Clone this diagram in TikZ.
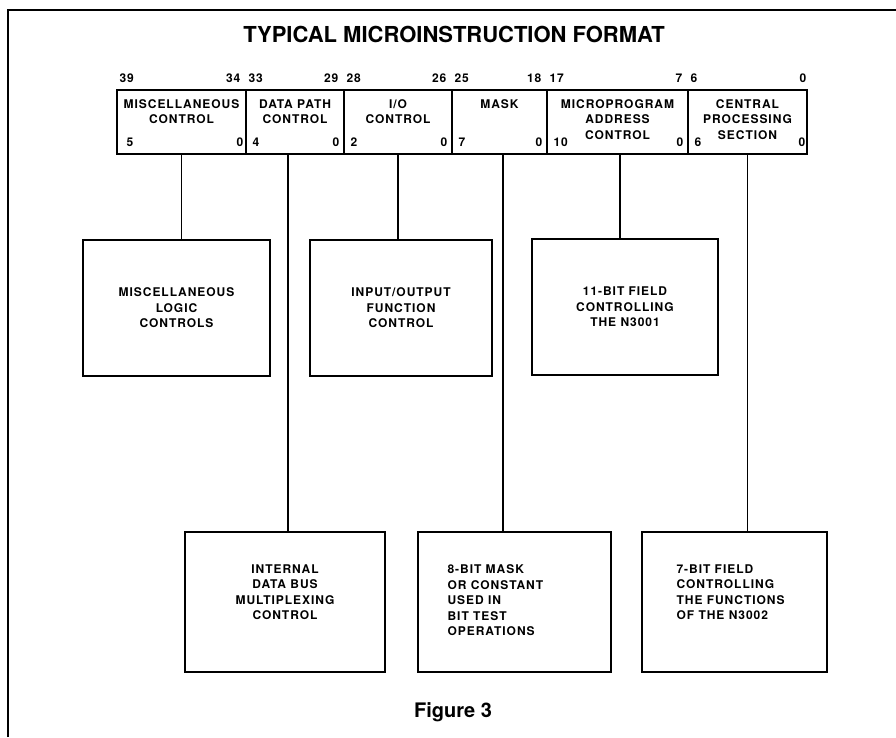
\documentclass[tikz,border=0pt]{standalone}
\usepackage{fontspec}
\setmainfont{TeX Gyre Heros}
\newfontfamily\spacedfont[LetterSpace=8]{TeX Gyre Heros}
\usetikzlibrary{positioning}

\begin{document}
\begin{tikzpicture}[
  x=1pt, y=-1pt,
  font=\spacedfont\bfseries\fontsize{12}{15.5}\selectfont,
  field/.style={draw=black, line width=1.2pt, minimum height=64pt, inner sep=0pt},
  fieldtext/.style={anchor=north, align=center, inner sep=0pt, yshift=-10pt},
  hileft/.style={inner sep=0pt, anchor=south west, xshift=3pt, yshift=7pt},
  hiright/.style={inner sep=0pt, anchor=south east, xshift=-6pt, yshift=7pt},
  loleft/.style={inner sep=0pt, anchor=south west, xshift=7pt, yshift=8pt},
  loright/.style={inner sep=0pt, anchor=south east, xshift=-5pt, yshift=8pt},
  unit/.style={draw=black, line width=1.2pt, inner sep=0pt, align=center},
  unittext/.style={inner sep=0pt, align=left},
  stem/.style={draw=black, line width=1.2pt},
  frame/.style={draw=black, line width=2pt}
]
\useasboundingbox (0,0) rectangle (896,737);
\draw[frame] (8,737) -- (8,10) -- (896,10);

% Titre
\node[font=\bfseries\fontsize{22}{26}\selectfont] (title) at (454,34) {TYPICAL MICROINSTRUCTION FORMAT};

% Champs du mot de microinstruction
\node[field, minimum width=129pt] (fmisc)  at (181.5,122) {};
\node[field, minimum width=98pt]  (fdp)    at (295,122)   {};
\node[field, minimum width=108pt] (fio)    at (398,122)   {};
\node[field, minimum width=95pt]  (fmask)  at (499.5,122) {};
\node[field, minimum width=141pt] (fmicro) at (617.5,122) {};
\node[field, minimum width=119pt] (fcps)   at (747.5,122) {};

\node[fieldtext] (tmisc)  at (fmisc.north)  {MISCELLANEOUS\\CONTROL};
\node[fieldtext] (tdpf)   at (fdp.north)    {DATA PATH\\CONTROL};
\node[fieldtext] (tiof)   at (fio.north)    {I/O\\CONTROL};
\node[fieldtext] (tmaskf) at (fmask.north)  {MASK};
\node[fieldtext] (tmicf)  at (fmicro.north) {MICROPROGRAM\\ADDRESS\\CONTROL};
\node[fieldtext] (tcpsf)  at (fcps.north)   {CENTRAL\\PROCESSING\\SECTION};

% Numéros de bits (mot / champ)
\node[hileft]  (misc-h1)  at (fmisc.north west)  {39};
\node[hiright] (misc-h2)  at (fmisc.north east)  {34};
\node[loleft, xshift=3pt] (misc-l1) at (fmisc.south west) {5};
\node[loright, xshift=2pt] (misc-l2) at (fmisc.south east) {0};
\node[hileft]  (dp-h1)    at (fdp.north west)    {33};
\node[hiright] (dp-h2)    at (fdp.north east)    {29};
\node[loleft]  (dp-l1)    at (fdp.south west)    {4};
\node[loright] (dp-l2)    at (fdp.south east)    {0};
\node[hileft]  (io-h1)    at (fio.north west)    {28};
\node[hiright] (io-h2)    at (fio.north east)    {26};
\node[loleft]  (io-l1)    at (fio.south west)    {2};
\node[loright] (io-l2)    at (fio.south east)    {0};
\node[hileft]  (mask-h1)  at (fmask.north west)  {25};
\node[hiright] (mask-h2)  at (fmask.north east)  {18};
\node[loleft]  (mask-l1)  at (fmask.south west)  {7};
\node[loright] (mask-l2)  at (fmask.south east)  {0};
\node[hileft]  (mic-h1)   at (fmicro.north west) {17};
\node[hiright] (mic-h2)   at (fmicro.north east) {7};
\node[loleft]  (mic-l1)   at (fmicro.south west) {10};
\node[loright] (mic-l2)   at (fmicro.south east) {0};
\node[hileft]  (cps-h1)   at (fcps.north west)   {6};
\node[hiright, xshift=5pt] (cps-h2) at (fcps.north east) {0};
\node[loleft]  (cps-l1)   at (fcps.south west)   {6};
\node[loright, xshift=3pt] (cps-l2) at (fcps.south east) {0};

% Blocs commandés (rangée haute)
\node[unit, minimum width=187pt, minimum height=136pt] (bmisc)  at (176.5,308) {MISCELLANEOUS\\LOGIC\\CONTROLS};
\node[unit, minimum width=182pt, minimum height=136pt] (bio)    at (401,308)   {INPUT/OUTPUT\\FUNCTION\\CONTROL};
\node[unit, minimum width=186pt, minimum height=136pt] (bmicro) at (625,307)   {11-BIT FIELD\\CONTROLLING\\THE N3001};

% Blocs commandés (rangée basse)
\node[unit, minimum width=200pt, minimum height=140pt] (bdp)   at (285,602)   {};
\node[unit, minimum width=193pt, minimum height=140pt] (bmask) at (514.5,602) {};
\node[unit, minimum width=185pt, minimum height=140pt] (bcps)  at (734.5,602) {};
\node[unittext, align=center, anchor=north] (tdp) at ([yshift=-33pt]bdp.north) {INTERNAL\\DATA BUS\\MULTIPLEXING\\CONTROL};
\node[unittext, anchor=north west] (tmask) at ([shift={(30pt,-33pt)}]bmask.north west) {8-BIT MASK\\OR CONSTANT\\USED IN\\BIT TEST\\OPERATIONS};
\node[unittext, anchor=north west] (tcps)  at ([shift={(35pt,-33pt)}]bcps.north west)  {7-BIT FIELD\\CONTROLLING\\THE FUNCTIONS\\OF THE N3002};

% Liaisons champ -> bloc
\draw[stem] (fmisc.south) -- (fmisc.south |- bmisc.north);
\draw[stem] ([xshift=-7pt]fdp.south) -- ([xshift=-7pt]fdp.south |- bdp.north);
\draw[stem] (fio.south) -- (fio.south |- bio.north);
\draw[stem] ([xshift=3.5pt]fmask.south) -- ([xshift=3.5pt]fmask.south |- bmask.north);
\draw[stem] ([xshift=2.5pt]fmicro.south) -- ([xshift=2.5pt]fmicro.south |- bmicro.north);
\draw[stem] (fcps.south) -- (fcps.south |- bcps.north);

% Légende
\node[font=\bfseries\fontsize{20}{24}\selectfont] (caption) at (453,712) {Figure 3};
\end{tikzpicture}
\end{document}
